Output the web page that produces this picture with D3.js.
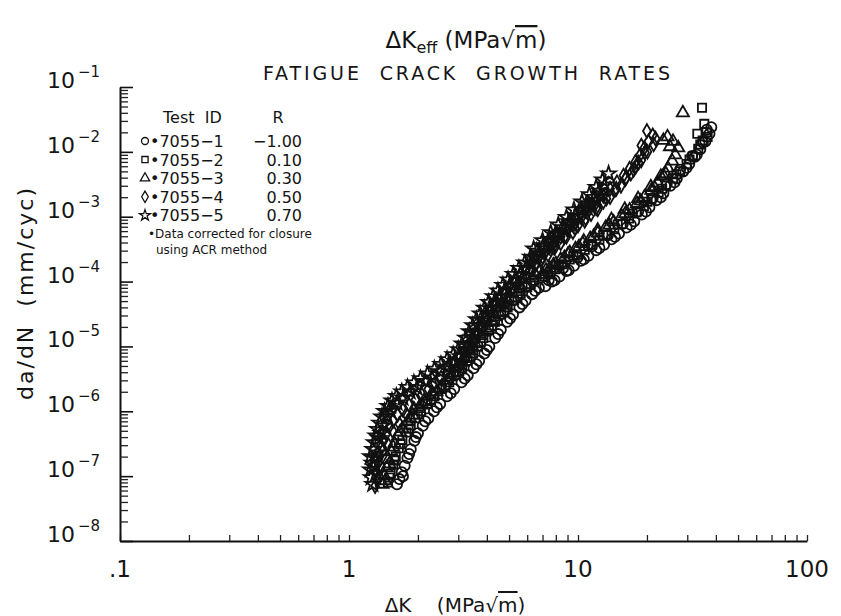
<!DOCTYPE html>
<html>
<head>
<meta charset="utf-8">
<script src="https://cdn.jsdelivr.net/npm/d3@7"></script>
<style>
body { margin: 0; background: #fff; }
text { font-family: "DejaVu Sans", sans-serif; fill: #151515; }
</style>
</head>
<body>
<div id="chart"></div>
<script>
// legend table
var testIds = ["7055\u22121", "7055\u22122", "7055\u22123", "7055\u22124", "7055\u22125"];
var rValues = ["\u22121.00", "0.10", "0.30", "0.50", "0.70"];
var symbolTypes = [d3.symbolCircle, d3.symbolSquare, d3.symbolTriangle, d3.symbolDiamond, d3.symbolStar];
var xTickLabels = [".1", "1", "10", "100"];
var yTickExps = [-1, -2, -3, -4, -5, -6, -7, -8];

// [dK (MPa sqrt m), da/dN (mm/cyc)]
var s7055_1 = [ // circles, R=-1.00
  [1.62,7.5e-8],[1.66,9.0e-8],[1.70,1.15e-7],[1.75,1.45e-7],[1.80,1.9e-7],[1.86,2.6e-7],[1.93,3.5e-7],[2.00,4.6e-7],
  [2.10,6.0e-7],[2.22,7.8e-7],[2.35,1.0e-6],[2.50,1.3e-6],[2.68,1.7e-6],[2.88,2.2e-6],[3.10,2.8e-6],[3.30,3.6e-6],
  [3.50,4.6e-6],[3.70,6.0e-6],[3.90,7.8e-6],[4.10,1.0e-5],[4.35,1.35e-5],[4.60,1.8e-5],[4.90,2.4e-5],[5.20,3.1e-5],
  [5.55,4.0e-5],[5.90,5.1e-5],[6.30,6.4e-5],[6.75,8.0e-5],
  [7.20,8.5e-5],[7.70,1.0e-4],[8.30,1.2e-4],[8.90,1.45e-4],[9.60,1.75e-4],[10.3,2.1e-4],[11.1,2.5e-4],[12.0,3.05e-4],
  [13.0,3.7e-4],[14.0,4.5e-4],[15.1,5.5e-4],[16.3,6.8e-4],[17.6,8.5e-4],[19.0,1.08e-3],[20.5,1.4e-3],[22.0,1.8e-3],
  [23.6,2.3e-3],[25.3,3.0e-3],[27.0,3.9e-3],[28.8,5.0e-3],[30.6,6.5e-3],[32.4,8.4e-3],[34.2,1.1e-2],[36.0,1.45e-2],
  [37.5,1.9e-2],[38.2,2.4e-2],[36.5,2.2e-2],
  [1.72,1.0e-7],[1.83,2.2e-7],[1.96,4.0e-7],[2.15,7.0e-7],[2.42,1.15e-6],[2.78,1.9e-6],[3.20,3.2e-6],[3.60,5.3e-6],
  [4.00,8.8e-6],[4.48,1.55e-5],[5.05,2.7e-5],[5.72,4.5e-5],[6.50,7.2e-5],
  [7.45,1.05e-4],[8.60,1.6e-4],[9.95,2.35e-4],[11.5,3.5e-4],[13.5,5.2e-4],[15.7,7.8e-4],[18.3,1.2e-3],[21.2,1.95e-3],
  [24.4,3.2e-3],[27.9,5.3e-3],[31.5,8.6e-3],[35.1,1.4e-2],
  [7.90,1.05e-4],[9.10,1.5e-4],[10.6,2.2e-4],[12.4,3.3e-4],[14.5,4.9e-4],[17.0,7.5e-4],[19.8,1.2e-3],[23.0,2.0e-3],
  [26.4,3.4e-3],[29.8,5.7e-3],[33.0,9.0e-3]
];
var s7055_2 = [ // squares, R=0.10
  [1.48,8.0e-8],[1.52,1.1e-7],[1.56,1.5e-7],[1.60,2.0e-7],[1.65,2.7e-7],[1.71,3.6e-7],[1.78,4.7e-7],[1.86,6.1e-7],
  [1.95,7.8e-7],[2.06,1.0e-6],[2.20,1.3e-6],[2.36,1.7e-6],[2.54,2.2e-6],[2.74,2.8e-6],[2.94,3.6e-6],[3.12,4.6e-6],
  [3.30,6.0e-6],[3.48,7.8e-6],[3.66,1.0e-5],[3.86,1.35e-5],[4.08,1.8e-5],[4.34,2.4e-5],[4.62,3.1e-5],[4.93,4.0e-5],
  [5.26,5.1e-5],[5.62,6.5e-5],[6.00,8.2e-5],[6.45,1.03e-4],
  [7.00,1.2e-4],[7.40,1.3e-4],[7.95,1.55e-4],[8.55,1.85e-4],[9.20,2.2e-4],[9.90,2.6e-4],[10.7,3.1e-4],[11.5,3.7e-4],
  [12.4,4.4e-4],[13.4,5.3e-4],[14.4,6.4e-4],[15.5,7.7e-4],[16.7,9.4e-4],[18.0,1.17e-3],[19.4,1.46e-3],[20.9,1.85e-3],
  [22.5,2.35e-3],[24.2,3.0e-3],[26.0,3.9e-3],[27.9,5.0e-3],[29.8,6.5e-3],[31.7,8.5e-3],[33.5,1.12e-2],[35.0,1.5e-2],
  [36.4,2.0e-2],[35.6,2.7e-2],[34.8,4.8e-2],
  [1.50,9.5e-8],[1.58,1.75e-7],[1.68,3.1e-7],[1.82,5.4e-7],[2.00,8.9e-7],[2.28,1.5e-6],[2.64,2.5e-6],[3.03,4.1e-6],
  [3.39,6.9e-6],[3.76,1.17e-5],[4.21,2.1e-5],[4.77,3.5e-5],[5.44,5.8e-5],[6.22,9.2e-5],
  [7.15,1.2e-4],[8.25,1.75e-4],[9.55,2.5e-4],[11.1,3.6e-4],[12.9,5.2e-4],[14.9,7.6e-4],[17.3,1.12e-3],[20.1,1.7e-3],
  [23.3,2.7e-3],[26.9,4.5e-3],[30.7,7.6e-3],[34.2,1.3e-2],[33.2,1.9e-2],[36.8,1.7e-2]
];
var s7055_3 = [ // triangles, R=0.30
  [1.40,7.5e-8],[1.43,1.0e-7],[1.46,1.35e-7],[1.49,1.8e-7],[1.53,2.4e-7],[1.58,3.2e-7],[1.64,4.2e-7],[1.71,5.4e-7],
  [1.80,6.9e-7],[1.90,8.7e-7],[2.02,1.1e-6],[2.16,1.4e-6],[2.32,1.8e-6],[2.50,2.3e-6],[2.68,3.0e-6],[2.86,3.9e-6],
  [3.03,5.0e-6],[3.20,6.5e-6],[3.37,8.5e-6],[3.55,1.1e-5],[3.75,1.45e-5],[3.97,1.9e-5],[4.22,2.5e-5],[4.50,3.3e-5],
  [4.80,4.3e-5],[5.12,5.5e-5],[5.48,7.0e-5],[5.87,8.9e-5],[6.30,1.13e-4],[6.75,1.42e-4],
  [7.25,1.5e-4],[7.80,1.8e-4],[8.40,2.2e-4],[9.05,2.65e-4],[9.75,3.2e-4],[10.5,3.85e-4],[11.3,4.6e-4],[12.2,5.6e-4],
  [13.2,6.8e-4],[14.3,8.3e-4],[15.5,1.02e-3],[16.8,1.27e-3],[18.1,1.6e-3],[19.5,2.0e-3],[20.9,2.55e-3],[22.3,3.3e-3],
  [23.6,4.3e-3],[24.7,5.6e-3],[25.8,7.2e-3],[26.6,9.0e-3],[27.4,1.15e-2],[26.0,1.45e-2],[24.6,1.7e-2],[23.6,1.5e-2],
  [25.2,1.2e-2],[28.7,4.0e-2],
  [1.44,8.5e-8],[1.50,1.55e-7],[1.56,2.8e-7],[1.67,4.8e-7],[1.85,7.8e-7],[2.09,1.25e-6],[2.41,2.0e-6],[2.77,3.4e-6],
  [3.12,5.7e-6],[3.46,9.7e-6],[3.86,1.65e-5],[4.36,2.85e-5],[4.96,4.9e-5],[5.67,7.9e-5],[6.52,1.27e-4],
  [7.52,1.6e-4],[8.72,2.35e-4],[10.1,3.45e-4],[11.7,5.0e-4],[13.7,7.4e-4],[16.1,1.12e-3],[18.8,1.75e-3],[21.6,2.8e-3],
  [24.2,4.6e-3],
  [7.00,1.3e-4],[8.00,1.9e-4],[9.20,2.8e-4],[10.6,4.2e-4],[12.2,6.2e-4],[14.0,9.0e-4],[16.0,1.3e-3],[18.3,1.9e-3],
  [20.8,2.9e-3],[23.0,4.2e-3]
];
var s7055_4 = [ // diamonds, R=0.50
  [1.30,7.0e-8],[1.33,9.0e-8],[1.31,1.2e-7],[1.34,1.6e-7],[1.36,2.1e-7],[1.39,2.8e-7],[1.42,3.6e-7],[1.46,4.6e-7],
  [1.50,5.8e-7],[1.56,7.2e-7],[1.63,8.8e-7],[1.72,1.05e-6],[1.83,1.25e-6],[1.95,1.5e-6],[2.08,1.8e-6],[2.22,2.2e-6],
  [2.37,2.7e-6],[2.52,3.3e-6],[2.68,4.1e-6],[2.85,5.1e-6],[3.02,6.4e-6],[3.18,8.0e-6],[3.32,1.0e-5],[3.46,1.3e-5],
  [3.60,1.65e-5],[3.75,2.1e-5],[3.92,2.7e-5],[4.10,3.4e-5],[4.30,4.3e-5],[4.52,5.4e-5],[4.76,6.8e-5],[5.02,8.5e-5],
  [5.30,1.05e-4],[5.60,1.3e-4],[5.95,1.6e-4],[6.35,2.0e-4],[6.80,2.5e-4],[7.30,3.1e-4],[7.80,3.9e-4],[8.40,4.9e-4],
  [9.00,6.2e-4],[9.70,7.8e-4],[10.4,1.0e-3],[11.2,1.3e-3],[12.0,1.65e-3],[12.9,2.1e-3],[13.8,2.7e-3],[14.8,3.4e-3],
  [15.8,4.3e-3],[16.8,5.5e-3],[17.8,7.0e-3],[18.7,9.0e-3],[19.5,1.15e-2],[20.3,1.45e-2],[21.2,1.8e-2],[20.0,2.1e-2],
  [18.9,1.25e-2],[1.38,1.4e-7],[1.48,3.1e-7],[1.66,6.4e-7],[1.92,1.1e-6],[2.30,1.9e-6],[2.75,3.2e-6],[3.10,5.5e-6],
  [3.40,9.5e-6],[3.68,1.6e-5],[4.02,2.6e-5],[4.45,4.0e-5],[4.95,6.2e-5],[5.50,9.5e-5],[6.15,1.45e-4],[6.95,2.2e-4],
  [7.90,3.3e-4],[8.90,4.9e-4],[10.0,7.3e-4],[11.4,1.1e-3],[12.9,1.7e-3],[14.5,2.6e-3],[16.2,4.0e-3],[17.9,6.0e-3],
  [1.35,1.0e-7],[1.40,2.4e-7],[1.55,5.0e-7],[1.78,9.0e-7],[2.12,1.45e-6],[2.55,2.5e-6],[2.95,4.3e-6],[3.25,7.2e-6],
  [3.52,1.2e-5],[3.82,1.9e-5],[4.20,3.0e-5],[4.65,4.7e-5],[5.15,7.4e-5],[5.75,1.15e-4],[6.50,1.75e-4],[7.40,2.6e-4],
  [8.40,3.9e-4],[9.50,5.8e-4],[10.7,8.6e-4],[12.2,1.3e-3],[13.8,2.0e-3],[15.4,3.0e-3],[17.0,4.6e-3],[18.4,6.8e-3],[19.6,9.8e-3],
  [7.00,2.4e-4],[7.80,3.4e-4],[8.70,4.8e-4],[9.70,6.6e-4],[10.8,9.4e-4],[12.0,1.35e-3],[13.3,1.9e-3],[14.7,2.7e-3],
  [16.1,3.8e-3],[17.5,5.3e-3],[18.9,7.4e-3],[20.1,1.0e-2],[21.4,1.3e-2],[21.8,1.6e-2]
];
var s7055_5 = [ // stars, R=0.70
  [1.27,7.5e-8],[1.25,9.5e-8],[1.24,1.25e-7],[1.26,1.6e-7],[1.24,2.0e-7],[1.27,2.6e-7],[1.29,3.3e-7],[1.31,4.2e-7],
  [1.33,5.3e-7],[1.36,6.6e-7],[1.39,8.2e-7],[1.43,1.0e-6],[1.48,1.2e-6],[1.54,1.45e-6],[1.61,1.7e-6],[1.70,2.0e-6],
  [1.80,2.35e-6],[1.92,2.75e-6],[2.05,3.2e-6],[2.20,3.8e-6],[2.36,4.5e-6],[2.52,5.3e-6],[2.68,6.3e-6],[2.85,7.5e-6],
  [3.00,9.0e-6],[3.12,1.1e-5],[3.23,1.35e-5],[3.35,1.7e-5],[3.47,2.1e-5],[3.60,2.6e-5],[3.74,3.2e-5],[3.90,3.9e-5],
  [4.07,4.8e-5],[4.26,5.9e-5],[4.47,7.2e-5],[4.70,8.8e-5],[4.95,1.07e-4],[5.22,1.3e-4],[5.52,1.6e-4],[5.85,1.95e-4],
  [6.20,2.4e-4],[6.60,2.95e-4],[7.05,3.6e-4],[7.50,4.5e-4],[8.00,5.5e-4],[8.55,6.8e-4],[9.10,8.4e-4],[9.70,1.04e-3],
  [10.3,1.3e-3],[11.0,1.6e-3],[11.7,2.0e-3],[12.4,2.5e-3],[13.1,3.1e-3],
  [1.31,1.1e-7],[1.33,2.3e-7],[1.38,4.6e-7],[1.47,8.5e-7],[1.62,1.35e-6],[1.85,2.0e-6],[2.15,2.9e-6],[2.50,4.1e-6],
  [2.90,5.9e-6],[3.20,8.5e-6],[3.45,1.35e-5],[3.70,2.1e-5],[4.00,3.3e-5],[4.40,5.0e-5],[4.85,7.5e-5],[5.35,1.1e-4],
  [5.90,1.6e-4],[6.50,2.3e-4],[7.20,3.2e-4],[7.90,4.5e-4],[8.70,6.2e-4],[9.60,8.5e-4],[10.5,1.15e-3],[11.5,1.55e-3],[12.5,2.1e-3],
  [1.28,1.4e-7],[1.30,1.9e-7],[1.35,3.8e-7],[1.41,6.0e-7],[1.52,1.0e-6],[1.72,1.6e-6],[1.98,2.3e-6],[2.30,3.3e-6],
  [2.70,4.8e-6],[3.05,7.0e-6],[3.30,1.05e-5],[3.55,1.6e-5],[3.82,2.5e-5],[4.15,3.8e-5],[4.60,5.8e-5],[5.10,8.8e-5],
  [5.60,1.3e-4],[6.20,1.9e-4],[6.85,2.7e-4],[7.55,3.8e-4],[8.30,5.2e-4],[9.15,7.2e-4],[10.0,1.0e-3],[11.0,1.35e-3],[12.0,1.8e-3],
  [6.40,3.2e-4],[7.00,4.3e-4],[7.60,5.7e-4],[8.20,7.5e-4],[8.90,9.8e-4],[9.60,1.28e-3],[10.4,1.7e-3],[11.2,2.2e-3],
  [12.0,2.85e-3],[12.8,3.7e-3],[13.6,4.6e-3]
];
var seriesData = [s7055_1, s7055_2, s7055_3, s7055_4, s7055_5];
var symbolSizes = [82, 68, 64, 54, 66];

var width = 841, height = 616;

var x = d3.scaleLog().domain([0.1, 100]).range([120, 807]);
var y = d3.scaleLog().domain([1e-8, 1e-1]).range([541, 87]);

var svg = d3.select("#chart").append("svg")
  .attr("width", width)
  .attr("height", height);

// minor + major tick values, one decade at a time
var xMinor = [], yMinor = [];
for (var e = -1; e < 2; e++)
  for (var k = 2; k < 10; k++) xMinor.push(k * Math.pow(10, e));
for (var e = -8; e < -1; e++)
  for (var k = 2; k < 10; k++) yMinor.push(k * Math.pow(10, e));
var xMajor = [0.1, 1, 10, 100];
var yMajor = yTickExps.map(function (p) { return Math.pow(10, p); });

// x axis
var gx = svg.append("g").attr("transform", "translate(0,541)");
gx.call(d3.axisBottom(x).tickValues(xMinor.concat(xMajor)).tickSize(-6).tickSizeOuter(0).tickFormat(""));
gx.select(".domain").attr("stroke", "#111").attr("stroke-width", 2);
gx.selectAll(".tick line").attr("stroke", "#222").attr("stroke-width", 1.3);

svg.append("g").selectAll("text")
  .data(xMajor)
  .join("text")
  .attr("x", function (d) { return x(d); })
  .attr("y", 577)
  .attr("text-anchor", "middle")
  .style("font-size", "23px")
  .text(function (d, i) { return xTickLabels[i]; });

// y axis: short minor ticks, longer majors
var gy = svg.append("g").attr("transform", "translate(120,0)");
gy.call(d3.axisLeft(y).tickValues(yMinor).tickSize(-8).tickSizeOuter(0).tickFormat(""));
gy.select(".domain").attr("stroke", "#111").attr("stroke-width", 2);
gy.selectAll(".tick line").attr("stroke", "#222").attr("stroke-width", 1.3);
var gy2 = svg.append("g").attr("transform", "translate(120,0)");
gy2.call(d3.axisLeft(y).tickValues(yMajor).tickSize(-13).tickSizeOuter(0).tickFormat(""));
gy2.select(".domain").remove();
gy2.selectAll(".tick line").attr("stroke", "#111").attr("stroke-width", 1.6);

var yl = svg.append("g").selectAll("text")
  .data(yTickExps)
  .join("text")
  .attr("x", 47)
  .attr("y", function (d) { return y(Math.pow(10, d)) + 1; })
  .style("font-size", "22px");
yl.append("tspan").text("10");
yl.append("tspan")
  .attr("dx", 3)
  .attr("dy", -11)
  .style("font-size", "15px")
  .text(function (d) { return "\u2212" + Math.abs(d); });

// axis titles
var xt = svg.append("text")
  .attr("x", 455).attr("y", 612)
  .attr("text-anchor", "middle")
  .style("font-size", "20px")
  .style("white-space", "pre");
xt.append("tspan").text("\u0394K    (MPa\u221A");
xt.append("tspan").style("text-decoration", "overline").text("m");
xt.append("tspan").text(")");

svg.append("text")
  .attr("transform", "translate(33,293) rotate(-90)")
  .attr("text-anchor", "middle")
  .style("font-size", "22px")
  .style("letter-spacing", "2px")
  .style("white-space", "pre")
  .text("da/dN  (mm/cyc)");

var topLabel = svg.append("text")
  .attr("x", 466).attr("y", 48)
  .attr("text-anchor", "middle")
  .style("font-size", "23px");
topLabel.append("tspan").text("\u0394K");
topLabel.append("tspan").attr("dy", 5).style("font-size", "16px").text("eff");
topLabel.append("tspan").attr("dy", -5).text(" (MPa\u221A");
topLabel.append("tspan").style("text-decoration", "overline").text("m");
topLabel.append("tspan").text(")");

svg.append("text")
  .attr("x", 263).attr("y", 80)
  .attr("textLength", 407)
  .attr("lengthAdjust", "spacing")
  .style("font-size", "19px")
  .style("white-space", "pre")
  .text("FATIGUE  CRACK  GROWTH  RATES");

// data marks
seriesData.forEach(function (pts, i) {
  svg.append("g")
    .attr("class", "series")
    .selectAll("path")
    .data(pts)
    .join("path")
    .attr("transform", function (d) { return "translate(" + x(d[0]) + "," + y(d[1]) + ")"; })
    .attr("d", d3.symbol(symbolTypes[i], symbolSizes[i]))
    .attr("fill", "none")
    .attr("stroke", "#111")
    .attr("stroke-width", 1.8);
});

// legend
var lg = svg.append("g").style("font-size", "16px");
lg.append("text").attr("x", 163).attr("y", 123).style("white-space", "pre").text("Test  ID");
lg.append("text").attr("x", 278).attr("y", 123).attr("text-anchor", "middle").text("R");
testIds.forEach(function (id, i) {
  var ry = 141 + i * 18.6;
  lg.append("path")
    .attr("transform", "translate(145," + ry + ")")
    .attr("d", d3.symbol(symbolTypes[i], 38))
    .attr("fill", "none")
    .attr("stroke", "#111")
    .attr("stroke-width", 1.3);
  lg.append("text").attr("x", 150).attr("y", ry + 6).text("\u2022" + id);
  lg.append("text").attr("x", 302).attr("y", ry + 6).attr("text-anchor", "end").text(rValues[i]);
});
lg.append("text").attr("x", 148).attr("y", 238).style("font-size", "12px").text("\u2022Data corrected for closure");
lg.append("text").attr("x", 156).attr("y", 254).style("font-size", "12px").text("using ACR method");
</script>
</body>
</html>
